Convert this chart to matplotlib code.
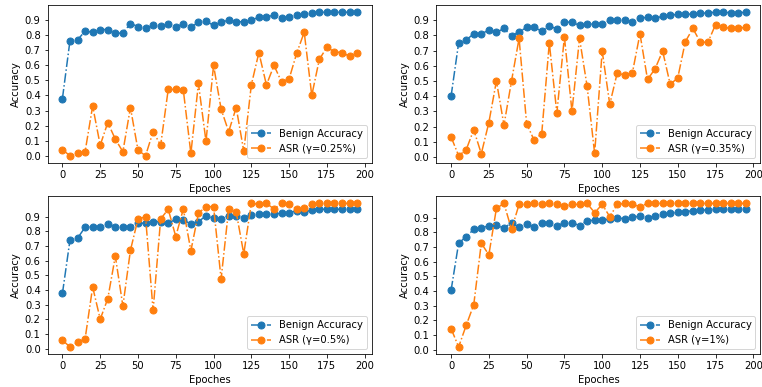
import numpy as np
import matplotlib
matplotlib.use("Agg")
import matplotlib.pyplot as plt

epochs = list(range(0, 200, 5))

# gamma = 0.25%
benign_025 = [0.38, 0.765, 0.77, 0.827, 0.82, 0.838, 0.838, 0.814, 0.814, 0.878,
              0.858, 0.845, 0.867, 0.86, 0.873, 0.858, 0.873, 0.852, 0.887, 0.894,
              0.865, 0.887, 0.90, 0.89, 0.89, 0.90, 0.92, 0.92, 0.935, 0.916,
              0.922, 0.933, 0.94, 0.95, 0.953, 0.953, 0.953, 0.953, 0.953, 0.953]
asr_025 = [0.04, 0.0, 0.015, 0.027, 0.33, 0.07, 0.22, 0.11, 0.027, 0.32,
           0.037, 0.0, 0.16, 0.07, 0.44, 0.44, 0.435, 0.015, 0.48, 0.095,
           0.60, 0.31, 0.16, 0.32, 0.03, 0.47, 0.685, 0.47, 0.60, 0.49,
           0.51, 0.68, 0.82, 0.40, 0.64, 0.72, 0.69, 0.685, 0.66, 0.685]

# gamma = 0.35%
benign_035 = [0.40, 0.75, 0.77, 0.81, 0.81, 0.834, 0.82, 0.845, 0.795, 0.823,
              0.852, 0.852, 0.828, 0.86, 0.843, 0.887, 0.887, 0.865, 0.872, 0.876,
              0.876, 0.898, 0.904, 0.904, 0.887, 0.911, 0.92, 0.911, 0.926, 0.933,
              0.937, 0.937, 0.941, 0.944, 0.948, 0.952, 0.952, 0.948, 0.948, 0.952]
asr_035 = [0.133, 0.009, 0.048, 0.18, 0.022, 0.227, 0.50, 0.21, 0.50, 0.78,
           0.22, 0.11, 0.155, 0.75, 0.29, 0.79, 0.30, 0.78, 0.467, 0.024,
           0.697, 0.347, 0.555, 0.537, 0.555, 0.81, 0.51, 0.58, 0.697, 0.478,
           0.52, 0.758, 0.845, 0.755, 0.755, 0.87, 0.854, 0.845, 0.845, 0.854]

# gamma = 0.5%
benign_05 = [0.376, 0.741, 0.753, 0.827, 0.832, 0.832, 0.85, 0.832, 0.832, 0.832,
             0.855, 0.855, 0.866, 0.866, 0.855, 0.882, 0.877, 0.85, 0.866, 0.905,
             0.889, 0.884, 0.907, 0.905, 0.893, 0.91, 0.918, 0.918, 0.918, 0.923,
             0.927, 0.939, 0.93, 0.945, 0.95, 0.95, 0.95, 0.95, 0.95, 0.95]
asr_05 = [0.057, 0.011, 0.043, 0.066, 0.42, 0.20, 0.34, 0.63, 0.29, 0.67,
          0.884, 0.898, 0.26, 0.884, 0.95, 0.764, 0.952, 0.667, 0.923, 0.968,
          0.968, 0.474, 0.952, 0.93, 0.646, 0.99, 0.984, 0.99, 0.952, 0.99,
          0.984, 0.952, 0.957, 0.984, 0.99, 0.99, 0.99, 0.99, 0.99, 0.99]

# gamma = 1%
benign_1 = [0.405, 0.726, 0.771, 0.82, 0.832, 0.843, 0.85, 0.828, 0.866, 0.834,
            0.855, 0.839, 0.866, 0.866, 0.843, 0.866, 0.866, 0.846, 0.877, 0.884,
            0.884, 0.889, 0.90, 0.891, 0.902, 0.911, 0.90, 0.911, 0.923, 0.93,
            0.936, 0.941, 0.948, 0.952, 0.952, 0.957, 0.957, 0.957, 0.957, 0.957]
asr_1 = [0.145, 0.02, 0.167, 0.307, 0.726, 0.647, 0.963, 0.997, 0.82, 0.99,
         0.99, 0.997, 0.99, 0.997, 0.99, 0.98, 0.99, 0.99, 0.997, 0.934,
         0.99, 0.907, 0.99, 0.997, 0.99, 0.975, 0.997, 0.997, 0.997, 0.997,
         0.997, 0.997, 0.997, 0.997, 0.997, 0.997, 0.997, 0.997, 0.997, 0.997]

panels = [(benign_025, asr_025, "0.25%"),
          (benign_035, asr_035, "0.35%"),
          (benign_05, asr_05, "0.5%"),
          (benign_1, asr_1, "1%")]

fig, axes = plt.subplots(2, 2, figsize=(762 / 72, 387 / 72), dpi=72)
fig.subplots_adjust(left=0.0626, right=0.998, top=0.987, bottom=0.085,
                    wspace=0.199, hspace=0.211)

for ax, (benign, asr, gamma) in zip(axes.flat, panels):
    ax.plot(epochs, benign, "-.", marker="o", markersize=7, label="Benign Accuracy")
    ax.plot(epochs, asr, "-.", marker="o", markersize=7, label="ASR (\u03b3={0})".format(gamma))
    ax.set_yticks(np.arange(0, 1.0, 0.1))
    ax.set_xticks(range(0, 201, 25))
    ax.set_xlabel("Epoches")
    ax.set_ylabel("Accuracy")
    ax.legend(loc="lower right")

fig.savefig("out.png", dpi=72)
